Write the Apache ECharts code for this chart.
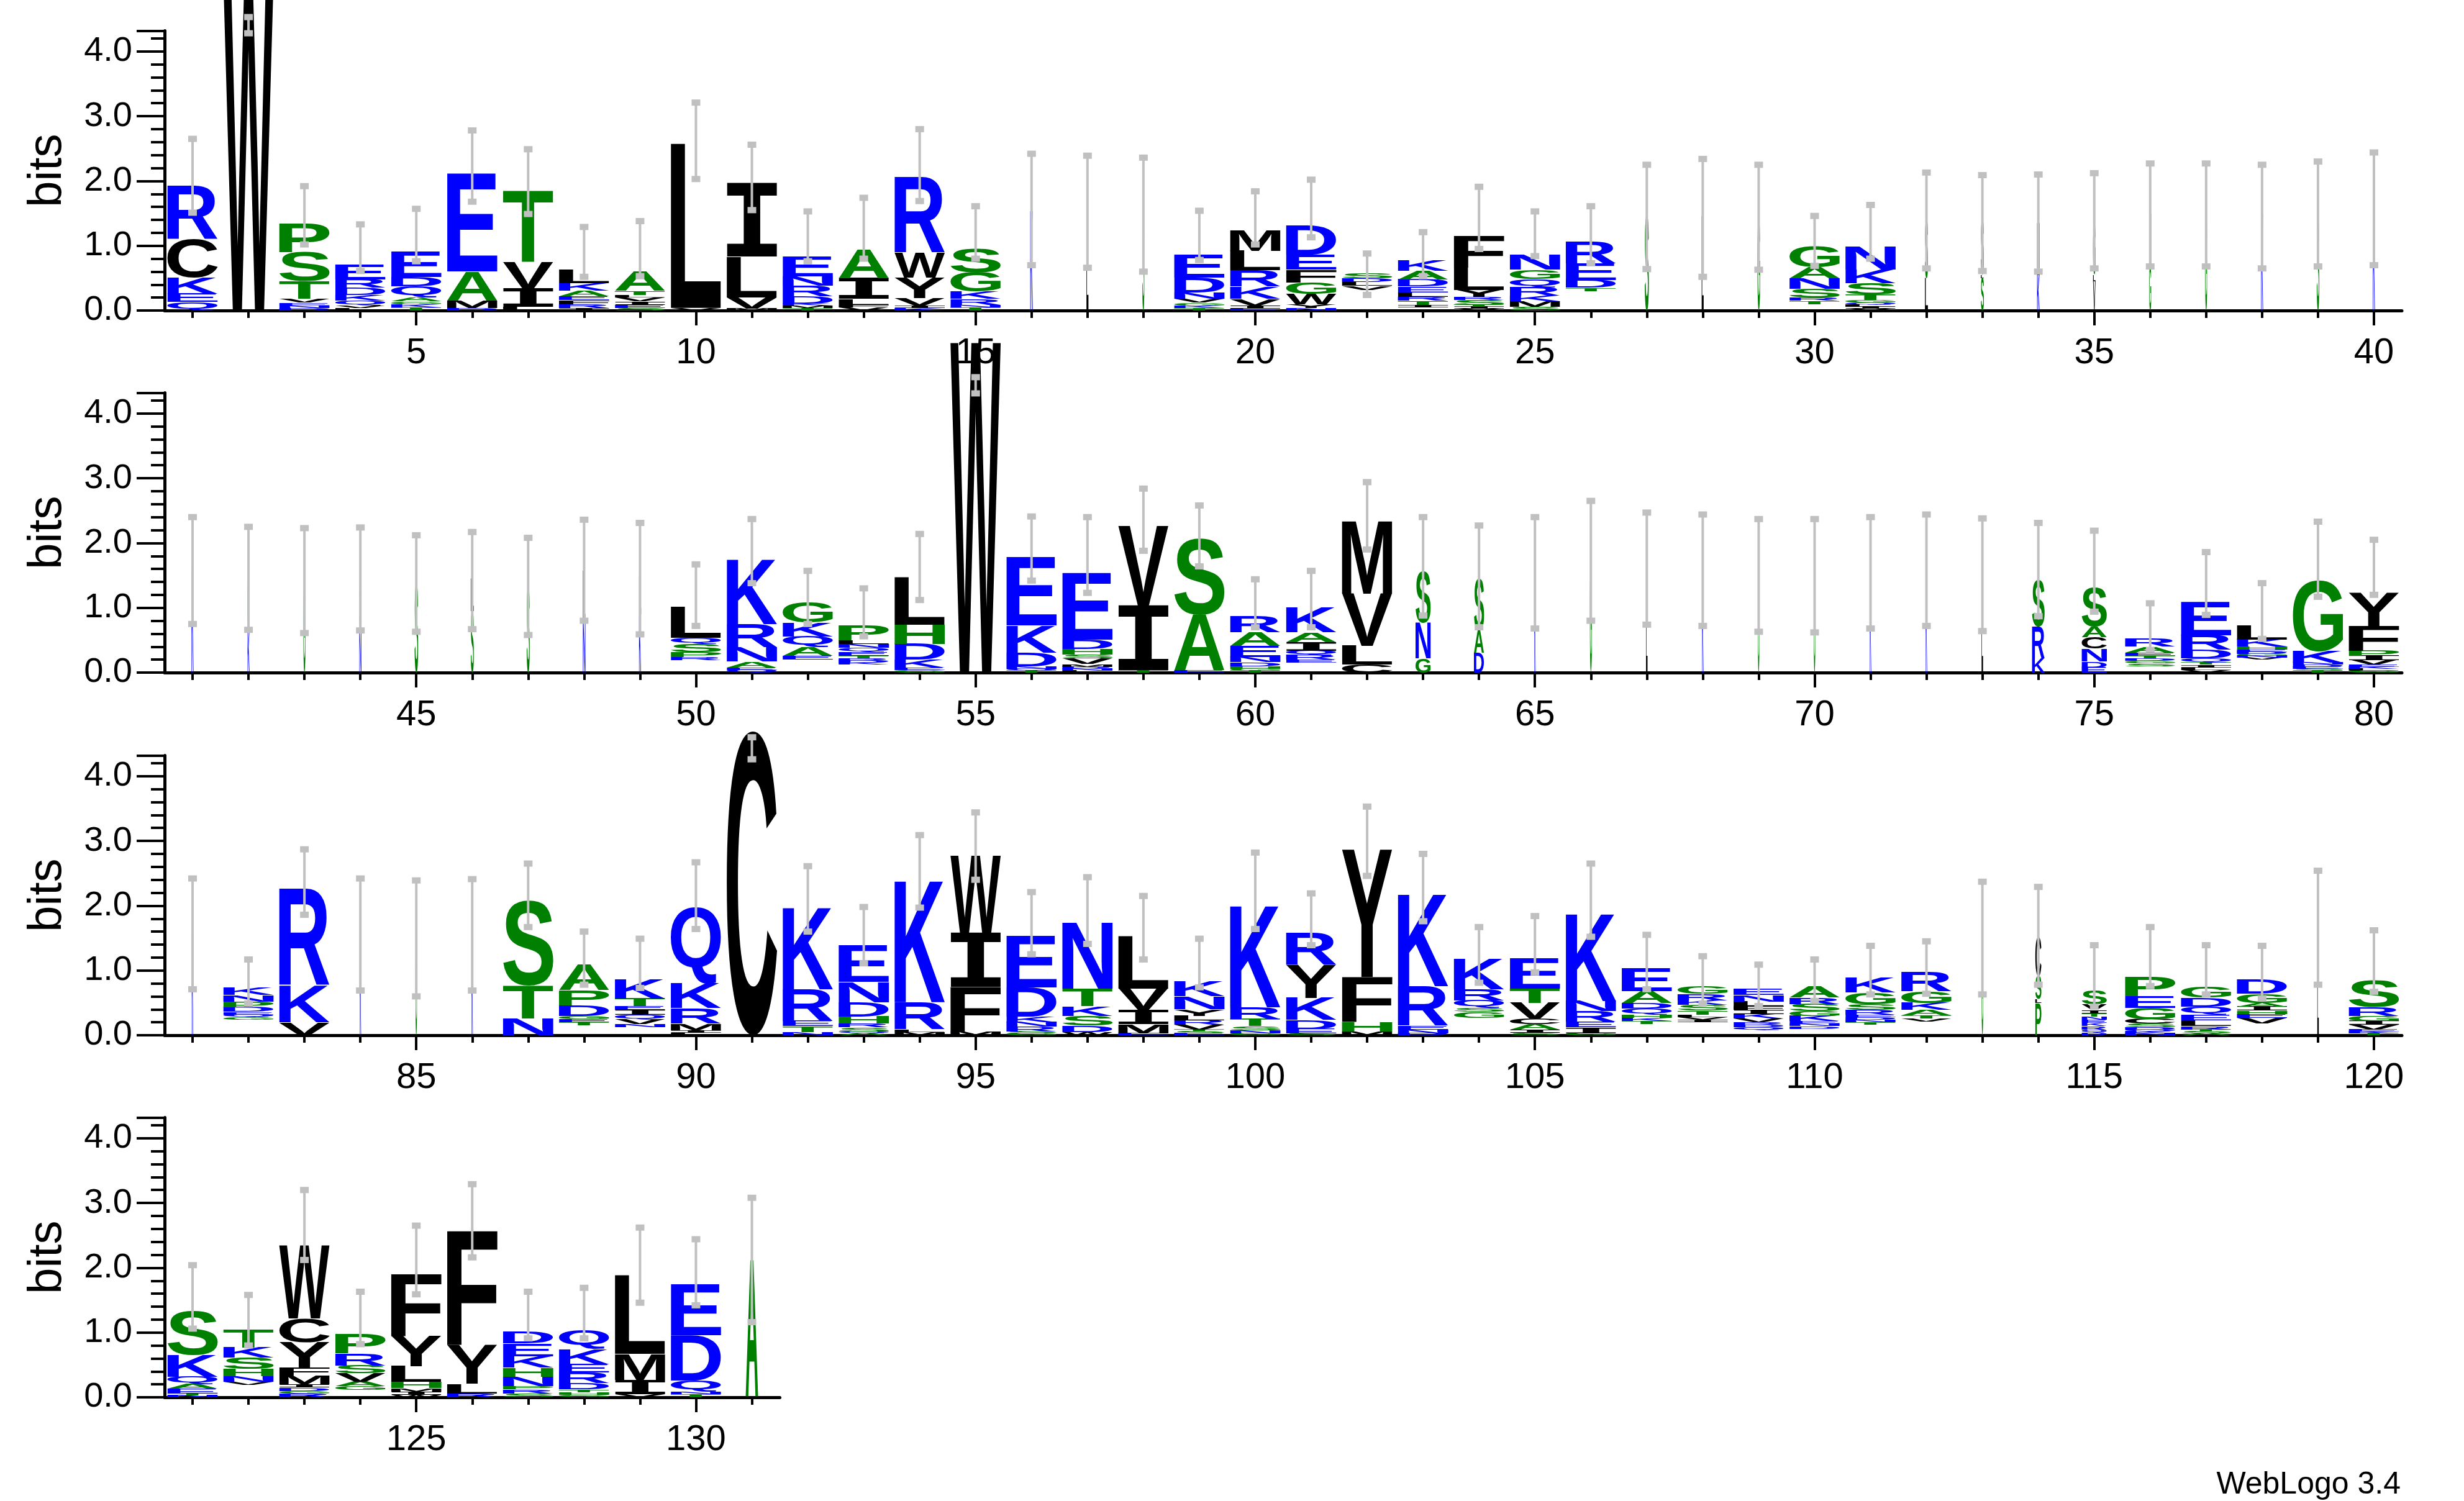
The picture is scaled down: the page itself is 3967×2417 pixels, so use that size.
<!DOCTYPE html>
<html>
<head>
<meta charset="utf-8">
<script src="https://cdn.jsdelivr.net/npm/echarts@6/dist/echarts.min.js"></script>
<style>
  html, body { margin: 0; padding: 0; background: #fff; }
  #main { width: 3967px; height: 2417px; }
</style>
</head>
<body>
<div id="main"></div>
<script>
// letter stacks, top to bottom, "letter+bits"; "_" is an empty gap at the bottom
var stacks = [
  // 1-40
  'R.83 C.59 K.25 E.13 Q.13', 'W5.1', 'P.45 S.45 T.27 V.06 E.04 N.04 D.04', 'E.23 R.13 D.11 K.09 Q.07 V.04 L.04',
  'E.39 D.15 Q.17 A.06 G.04 K.05 T.05', 'E1.51 A.45 M.11 D.04', 'T1.1 V.42 I.28 L.06', 'L.21 K.11 A.09 E.06 F.06 R.06 I.04',
  'A.3 T.06 L.04 V.06 I.05 E.05 S.04', 'L2.54 V.04', 'I1.14 L.63 V.17 M.03', 'E.3 N.15 R.16 D.11 K.03 M.04 T.04',
  'A.45 I.32 L.09 F.04 V.05', 'R1.17 W.38 Y.32 V.11 I.04 K.04', 'S.36 G.3 K.11 R.09 N.04 T.05', 'K1.55',
  'L1.5', 'S1.48', 'E.36 D.23 N.1 V.06 G.04 K.04 T.04', 'M.32 L.3 R.25 K.19 V.1 I.05 E.03',
  'D.45 E.23 F.2 G.17 W.16 Y.06 N.04', 'S.07 D.06 L.06 V.06 _.32', 'K.16 A.13 D.11 E.09 L.07 R.06 T.06 I.04 _.05', 'F.5 L.34 Y.11 R.05 S.07 T.03 I.03 V.03',
  'N.24 G.14 Q.13 R.13 K.09 M.08 S.06', 'R.33 E.26 D.12 T.05 _.3', 'S1.46', 'L1.46',
  'G1.46', 'G.33 A.17 N.16 S.14 R.05 T.05 _.1', 'N.36 K.21 S.17 T.09 G.04 Q.03 L.03 I.03 V.03', 'S.9 L.5',
  'S.85 L.05 S.5', 'N.7 L.1 K.55', 'G.8 L.1 V.45', 'N.8 G.7', 'G1.5', 'K1.5', 'S1.45', 'K1.5',
  // 41-80
  'K1.62', 'G.8 K.67', 'G1.43', 'S.8 N.65', 'S1.37', 'L.5 S.95', 'S1.33', 'L.8 N.78',
  'L.6 K.9', 'L.48 Q.1 S.13 P.07 R.05 _.19', 'K1 R.36 N.22 A.09 E.04 Q.04', 'G.31 K.21 Q.17 A.13 E.06 _.2',
  'P.23 L.06 N.06 Q.06 E.06 T.04 R.04 D.03 K.03 _.12', 'L.73 H.3 D.24 K.12 E.04 G.04', 'W5.1', 'E1.06 K.42 D.21 N.04 Q.03 T.03',
  'E1.03 D.15 H.08 S.06 V.09 M.04 R.03 N.03 L.03', 'V1.23 I1 T.04', 'S1.18 A.86 E.03', 'R.25 A.21 E.17 N.08 D.06 H.04 G.03 T.03',
  'K.38 A.15 I.13 Q.07 R.07 E.05 _.15', 'M1.12 V.81 L.29 C.12', 'S.8 N.55 G.22', 'S.8 A.35 D.3',
  'K1.55', 'G1.74', 'L1.6', 'K1.6', 'G1.58', 'G1.58', 'K1.6', 'K1.6',
  'L1.58', 'S.72 R.49 K.22', 'S.6 A.16 C.18 N.2 D.09 E.08', 'R.12 A.09 E.05 T.04 D.04 G.04 S.04 _.1',
  'E.52 R.23 D.13 Q.06 T.04 I.04 L.04 V.04', 'L.22 K.11 H.05 E.03 D.03 G.03 N.03 V.03 _.2', 'G1.1 K.18 N.03 D.03 E.03 S.03 T.03', 'Y.52 F.38 P.08 I.07 V.07 E.03 K.03 L.03 G.03',
  // 81-120
  'K1.56', 'K.11 N.1 P.09 D.07 E.04 Q.04 G.04 _.24', 'R1.5 K.57 V.2', 'K1.55', 'G1.55', 'K1.55', 'S1.32 T.51 N.26', 'A.39 P.24 D.16 G.05 E.05 T.05 _.15',
  'K.3 T.12 E.06 I.07 Q.08 V.07 N.05 _.12', 'Q1.19 K.38 R.24 M.1 I.04 L.04', 'C4.7', 'K1.26 R.49 E.08 T.09 N.05',
  'E.56 N.31 D.22 H.11 R.06 S.06 Q.03 A.03', 'K1.88 R.42 L.04 M.05', 'W1.19 I.83 F.69 M.06', 'E.8 D.45 K.09 N.07 R.07 S.03 G.03',
  'N1.03 T.27 K.15 S.15 D.1 W.05', 'L.81 V.33 I.22 M.14 E.03', 'K.23 N.2 Y.1 L.07 R.07 V.07 T.03 S.03 E.03', 'K1.57 R.18 T.11 S.06 N.05 G.03',
  'R.5 Y.51 K.34 D.14 E.07 S.03', 'Y1.97 F.69 H.15 M.06', 'K1.42 R.61 E.06 N.06 D.03', 'K.47 R.17 Q.12 S.06 G.09 _.27',
  'E.47 T.22 V.24 C.09 A.08 I.05 S.04', 'K1.35 N.16 R.16 E.09 I.09 G.03', 'E.36 A.18 D.09 Q.09 H.05 K.05 T.05 _.17', 'G.11 R.1 K.07 S.09 T.06 L.04 V.04 I.04 _.2',
  'E.1 N.1 L.07 F.06 I.06 K.07 V.06 R.04 D.04 Q.04 _.08', 'A.17 R.1 S.11 G.07 K.08 E.04 N.04 D.04 _.1', 'K.23 G.18 S.09 R.07 E.04 D.04 N.04 T.04 _.16', 'R.29 G.18 K.11 A.08 T.05 V.05 _.21',
  'G1.5', 'C.6 S.35 L.06 P.5', 'S.21 V.09 I.05 T.05 N.05 E.05 K.05 R.05 Q.05 D.04', 'P.29 E.18 G.17 C.07 S.06 D.03 Q.03 K.03 N.03',
  'G.16 D.14 Q.12 E.09 L.09 R.05 T.03 S.03 A.03', 'D.22 G.14 A.06 I.06 H.05 E.06 V.09 _.18', 'L1.67', 'S.41 R.14 G.08 I.06 V.07 E.03 K.03 T.03',
  // 121-131
  'S.68 K.33 Q.12 A.07 E.07 T.03 N.03', 'T.28 K.16 S.17 H.11 N.09 V.05 _.19', 'W1.13 C.37 Y.39 F.12 M.14 I.05 D.05 G.04 R.06', 'P.3 R.19 S.12 V.13 A.07 G.06 _.11',
  'F.96 Y.46 L.24 H.1 M.05 I.05 W.04', 'F1.77 Y.6 L.15 R.06', 'D.18 E.2 K.17 H.14 N.15 P.05 R.06 S.06', 'Q.29 K.24 E.13 R.16 D.1 T.04 H.04 G.04',
  'L1.22 M.4 I.22 V.05', 'E.79 D.7 Q.17 N.04 T.05', 'A2.12'
];

var errHi = [
  2.65, 4.53, 1.92, 1.33, 1.57, 2.78, 2.49, 1.29, 1.38, 3.21, 2.56, 1.53, 1.74, 2.8, 1.61, 2.42, 2.39, 2.36, 1.54, 1.84,
  2.02, .88, 1.21, 1.91, 1.53, 1.61, 2.25, 2.34, 2.25, 1.46, 1.63, 2.13, 2.09, 2.1, 2.12, 2.27, 2.27, 2.25, 2.3, 2.44,
  2.4, 2.25, 2.23, 2.24, 2.12, 2.17, 2.08, 2.36, 2.31, 1.67, 2.37, 1.57, 1.3, 2.14, 4.56, 2.41, 2.4, 2.84, 2.58, 1.44,
  1.57, 2.94, 2.4, 2.27, 2.4, 2.65, 2.47, 2.44, 2.37, 2.37, 2.4, 2.44, 2.38, 2.31, 2.19, 1.07, 1.86, 1.38, 2.33, 2.05,
  2.42, 1.17, 2.87, 2.42, 2.39, 2.41, 2.65, 1.6, 1.49, 2.67, 4.6, 2.61, 1.98, 3.09, 3.44, 2.21, 2.44, 2.15, 1.49, 2.82,
  2.19, 3.53, 2.8, 1.67, 1.84, 2.65, 1.55, 1.22, 1.09, 1.17, 1.38, 1.45, 2.37, 2.29, 1.39, 1.67, 1.39, 1.38, 2.54, 1.62,
  2.04, 1.58, 3.2, 1.63, 2.65, 3.29, 1.63, 1.69, 2.62, 2.44, 3.08
];
var errLo = [
  1.51, 4.28, 1.02, .61, .76, 1.68, 1.49, .52, .53, 2.03, 1.55, .76, .8, 1.69, .8, .7, .66, .6, .78, 1.02,
  1.13, .24, .53, .95, .84, .73, .64, .52, .63, .69, .8, .65, .61, .6, .65, .68, .68, .65, .68, .7,
  .75, .66, .61, .65, .63, .67, .58, .8, .59, .72, 1.38, .75, .56, 1.12, 4.31, 1.42, 1.23, 1.88, 1.64, .7,
  .7, 1.9, .88, .7, .68, .8, .74, .72, .63, .62, .68, .72, .64, .87, .94, .35, .89, .52, 1.17, 1.2,
  .71, .49, 1.86, .69, .6, .69, 1.67, .78, .73, 1.64, 4.26, 1.6, 1.11, 1.97, 2.4, 1.25, 1.41, 1.17, .74, 1.64,
  1.39, 2.46, 1.76, .81, .97, 1.52, .71, .49, .45, .53, .63, .64, .63, .78, .44, .76, .63, .57, .78, .67,
  1.06, .8, 2.12, .82, 1.59, 2.16, .91, .91, 1.46, 1.42, 1.16
];

// columns drawn narrower (gappy positions): [position, width fraction]
var narrowCols = [
  [16, .05], [17, .04], [18, .04], [27, .08], [28, .04], [29, .05], [32, .06], [33, .06], [34, .05], [35, .05],
  [36, .04], [37, .04], [38, .04], [39, .05], [40, .04], [41, .04], [42, .04], [43, .04], [44, .04], [45, .07],
  [46, .06], [47, .06], [48, .05], [49, .04], [63, .3], [64, .2], [65, .03], [66, .04], [67, .03], [68, .03],
  [69, .03], [70, .03], [71, .03], [72, .03], [73, .03], [74, .25], [75, .5], [81, .03], [84, .03], [85, .03],
  [86, .03], [113, .03], [114, .12], [115, .5], [119, .03], [131, .25]
];

var rowStarts = [1, 41, 81, 121];
var rowEnds = [40, 80, 120, 131];
var yTicks = [0, 1, 2, 3, 4];

var BLUE = '#0000ff', GREEN = '#008000', BLACK = '#000000';
var colorOf = {};
'KRDENQ'.split('').forEach(function (c) { colorOf[c] = BLUE; });
'SGHTAP'.split('').forEach(function (c) { colorOf[c] = GREEN; });

var widthOf = {};
narrowCols.forEach(function (p) { widthOf[p[0]] = p[1]; });

var FONT = 'bold 200px "Liberation Sans", Arial, sans-serif';
// weblogo's I has cross bars, take it from a mono font
var FONT_I = 'bold 200px "DejaVu Sans Mono", monospace';
var TICKFONT = '"Liberation Sans", Arial, sans-serif';
var measureCtx = document.createElement('canvas').getContext('2d');
measureCtx.textAlign = 'center';
measureCtx.textBaseline = 'middle';
var metricCache = {};
function fontFor(ch) { return ch === 'I' ? FONT_I : FONT; }
function glyphBox(ch) {
  if (!metricCache[ch]) {
    measureCtx.font = fontFor(ch);
    var m = measureCtx.measureText(ch);
    metricCache[ch] = {
      l: m.actualBoundingBoxLeft, r: m.actualBoundingBoxRight,
      a: m.actualBoundingBoxAscent, d: m.actualBoundingBoxDescent
    };
  }
  return metricCache[ch];
}

function parseStack(s) {
  return s.split(' ').map(function (t) {
    return { ch: t.charAt(0), h: parseFloat(t.slice(1)) };
  }).reverse(); // bottom first
}

function renderItem(params, api) {
  var idx = api.value(0);
  var pos = api.value(1);
  var cellW = api.size([1, 0])[0];
  var pxBit = api.size([0, 1])[1];
  var base = api.coord([idx, 0]);
  var cx = base[0];
  var w = cellW * 0.9 * (widthOf[pos] || 1);
  var children = [];
  var y = base[1];
  parseStack(stacks[pos - 1]).forEach(function (L) {
    var hpx = L.h * pxBit;
    var top = y - hpx;
    if (L.ch !== '_') {
      var g = glyphBox(L.ch);
      var sx = w / (g.l + g.r);
      var sy = hpx / (g.a + g.d);
      children.push({
        type: 'text',
        x: cx - w / 2 + g.l * sx,
        y: top + g.a * sy,
        scaleX: sx,
        scaleY: sy,
        silent: true,
        style: {
          text: L.ch, font: fontFor(L.ch), fill: colorOf[L.ch] || BLACK,
          align: 'center', verticalAlign: 'middle'
        }
      });
    }
    y = top;
  });
  var yHi = api.coord([idx, errHi[pos - 1]])[1];
  var yLo = api.coord([idx, errLo[pos - 1]])[1];
  var gray = '#c0c0c0';
  children.push({
    type: 'line', silent: true,
    shape: { x1: cx, y1: yHi, x2: cx, y2: yLo },
    style: { stroke: gray, lineWidth: 4 }
  });
  [yHi, yLo].forEach(function (yy) {
    children.push({
      type: 'rect', silent: true,
      shape: { x: cx - 7, y: yy - 5, width: 14, height: 10 },
      style: { fill: gray }
    });
  });
  return { type: 'group', children: children };
}

var cellPx = 90.05;
var zeroY = [500, 1083, 1667, 2250];
var plotH = 450.6;

var grids = [], xAxes = [], yAxes = [], series = [];
rowStarts.forEach(function (start, r) {
  var cats = [];
  var data = [];
  for (var p = start; p <= rowEnds[r]; p++) {
    cats.push(String(p));
    data.push([p - start, p]);
  }
  grids.push({
    left: 265, top: zeroY[r] - plotH,
    width: cats.length * cellPx, height: plotH
  });
  xAxes.push({
    type: 'category', gridIndex: r, data: cats, position: 'bottom',
    axisLine: { show: true, lineStyle: { color: '#000', width: 5 } },
    axisTick: { show: true, alignWithLabel: true, interval: 0, length: 12, lineStyle: { color: '#000', width: 4 } },
    axisLabel: { show: false },
    splitLine: { show: false }
  });
  xAxes.push({
    type: 'category', gridIndex: r, data: cats, position: 'bottom',
    axisLine: { show: false },
    axisTick: {
      show: true, alignWithLabel: true, length: 24,
      interval: function (i, v) { return Number(v) % 5 === 0; },
      lineStyle: { color: '#000', width: 4 }
    },
    axisLabel: {
      show: true, margin: 40, color: '#000', fontSize: 58, fontFamily: TICKFONT,
      interval: function (i, v) { return Number(v) % 5 === 0; }
    },
    splitLine: { show: false }
  });
  yAxes.push({
    type: 'value', gridIndex: r, min: 0, max: 4.32, interval: 1,
    name: 'bits', nameLocation: 'middle', nameGap: 150, nameRotate: 90,
    nameTextStyle: { color: '#000', fontSize: 76, fontFamily: TICKFONT },
    axisLine: { show: true, lineStyle: { color: '#000', width: 5 } },
    axisTick: { show: true, length: 45, lineStyle: { color: '#000', width: 4 } },
    minorTick: { show: true, splitNumber: 5, length: 22, lineStyle: { color: '#000', width: 4 } },
    axisLabel: {
      color: '#000', fontSize: 56, fontFamily: TICKFONT, margin: 52,
      showMaxLabel: false,
      formatter: function (v) { return yTicks.indexOf(v) >= 0 ? v.toFixed(1) : ''; }
    },
    splitLine: { show: false }
  });
  series.push({
    type: 'custom', coordinateSystem: 'cartesian2d',
    xAxisIndex: r * 2, yAxisIndex: r,
    renderItem: renderItem, data: data, clip: false, z: 5 + r,
    animation: false
  });
});

var chart = echarts.init(document.getElementById('main'), null, { renderer: 'canvas' });
chart.setOption({
  backgroundColor: '#fff',
  animation: false,
  grid: grids,
  xAxis: xAxes,
  yAxis: yAxes,
  series: series,
  graphic: [{
    type: 'text', right: 102, top: 2366,
    style: { text: 'WebLogo 3.4', font: '50px "Liberation Sans", Arial, sans-serif', fill: '#000' }
  }]
});
</script>
</body>
</html>
